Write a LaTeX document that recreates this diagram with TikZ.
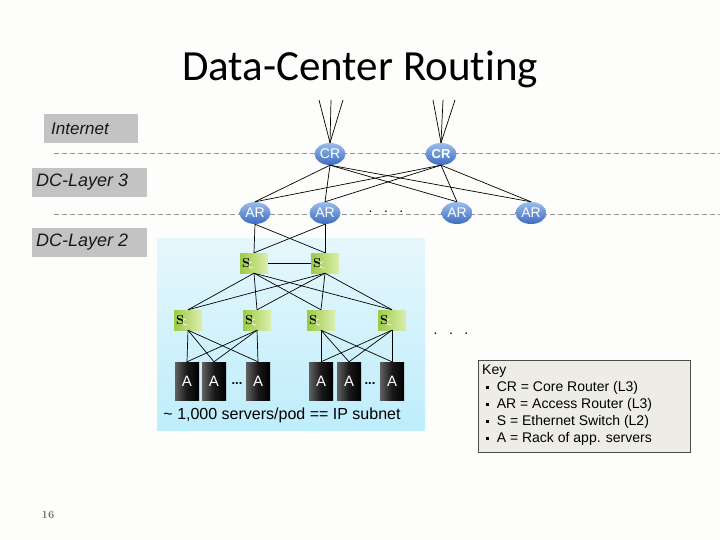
\documentclass[tikz,border=0pt]{standalone}
\usepackage{fontspec}
\setmainfont{Liberation Sans}
\newfontfamily\titlefont[Ligatures=NoCommon]{Carlito}
\newfontfamily\serifnum{Latin Modern Roman}
\usetikzlibrary{shapes.geometric}
\definecolor{bgc}{HTML}{FDFDFB}
\definecolor{podtop}{HTML}{E6F7FC}
\definecolor{podbot}{HTML}{BEEDFB}
\definecolor{rtop}{HTML}{9BBDEB}
\definecolor{rbot}{HTML}{3D6CC0}
\definecolor{sgl}{HTML}{9CCB45}
\definecolor{sgr}{HTML}{DCEEB0}
\definecolor{labelgray}{HTML}{C3C3C3}
\definecolor{keyfill}{HTML}{EEEDE5}
\tikzset{
  router/.style={ellipse, minimum width=31pt, minimum height=22pt, inner sep=0pt,
    top color=rtop, bottom color=rbot, draw=none, text=white,
    font=\fontsize{14}{14}\selectfont},
  switchbox/.style={rectangle, minimum width=28pt, minimum height=20pt, inner sep=0pt,
    left color=sgl, right color=sgr, draw=none},
  rack/.style={rectangle, minimum width=24pt, minimum height=38pt, inner sep=0pt,
    left color=black!62, right color=black, middle color=black!90, draw=none, text=white,
    font=\fontsize{15}{15}\selectfont},
  layerlabel/.style={rectangle, fill=labelgray, inner sep=0pt, anchor=north west},
  labeltext/.style={anchor=west, inner sep=0pt, text=black!90},
  layerline/.style={draw=black!42, dashed, dash pattern=on 5pt off 3pt, line width=0.6pt},
  link/.style={draw=black, line width=0.7pt},
  keyitem/.style={anchor=west, font=\fontsize{14}{14}\selectfont, inner sep=0pt},
}
\newcommand{\keybullet}{\raisebox{3pt}{\rule{2.6pt}{2.6pt}}\hspace{8pt}}
\newcommand{\sswitch}[2]{%
  \node[switchbox] (#1) at #2 {};
  \node[anchor=west, inner sep=0pt, font=\serifnum\bfseries\fontsize{13}{13}\selectfont] at ([xshift=2pt]#1.west) {S};
  \draw[white, line width=0.6pt] ([xshift=12pt,yshift=1pt]#1.west) arc[start angle=90, end angle=300, radius=3pt];
}
\begin{document}
\begin{tikzpicture}[x=1pt,y=-1pt]
\useasboundingbox (0,0) rectangle (720,540);
\fill[bgc] (0,0) rectangle (720,540);

% title
\node[font=\titlefont\fontsize{43}{43}\selectfont, anchor=base] (title) at (360,81) {Data-Center Routing};

% pod background
\shade[top color=podtop, bottom color=podbot] (157,238) rectangle (425,430);

% layer labels
\node[layerlabel, minimum width=94pt, minimum height=29pt] (lint) at (44,114) {};
\node[labeltext, font=\fontsize{17}{17}\selectfont\itshape] at (51,128.5) {Internet};
\node[layerlabel, minimum width=115pt, minimum height=29pt] (ldc3) at (32,168) {};
\node[labeltext, font=\fontsize{18}{18}\selectfont\itshape] at (36,182.5) {DC-Layer 3};
\node[layerlabel, minimum width=115pt, minimum height=29pt] (ldc2) at (32,228) {};
\node[labeltext, font=\fontsize{18}{18}\selectfont\itshape] at (36,242.5) {DC-Layer 2};

% dashed layer lines
\coordinate (d1a) at (54,153); \coordinate (d1b) at (720,153);
\coordinate (d2a) at (54,214); \coordinate (d2b) at (720,214);
\draw[layerline] (d1a) -- (d1b);
\draw[layerline] (d2a) -- (d2b);

% core routers
\node[router] (cr1) at (330,154) {CR};
\node[router, font=\fontsize{13}{13}\selectfont\bfseries] (cr2) at (441,154) {CR};

% access routers
\node[router] (ar1) at (255,213) {AR};
\node[router] (ar2) at (325,213) {AR};
\node[router] (ar3) at (457,213) {AR};
\node[router] (ar4) at (531,213) {AR};
\node[anchor=base, font=\fontsize{14}{14}\selectfont] (dotsar) at (386,213) {.\hspace{11.5pt}.\hspace{11.5pt}.};

% uplinks
\coordinate (u1) at (319,100); \coordinate (u2) at (331,100); \coordinate (u3) at (343,100);
\coordinate (u4) at (433,100); \coordinate (u5) at (443,100); \coordinate (u6) at (455,100);
\foreach \u in {u1,u2,u3} \draw[link] (cr1.north) -- (\u);
\foreach \u in {u4,u5,u6} \draw[link] (cr2.north) -- (\u);

% CR-AR mesh
\foreach \c in {cr1,cr2}
  \foreach \a in {ar1,ar2,ar3,ar4}
    \draw[link] (\c.south) -- (\a.north);

% aggregation switches
\sswitch{s1}{(254,263)}
\sswitch{s2}{(325,263)}
\foreach \a in {ar1,ar2}
  \foreach \s in {s1,s2}
    \draw[link] (\a.south) -- (\s.north);
\draw[link] (s1) -- (s2);

% top-of-rack switches
\sswitch{s3}{(188,320)}
\sswitch{s4}{(257,320)}
\sswitch{s5}{(321,320)}
\sswitch{s6}{(392,320)}
\foreach \a in {s1,s2}
  \foreach \s in {s3,s4,s5,s6}
    \draw[link] (\a.south) -- (\s.north);

\node[anchor=base, font=\fontsize{14}{14}\selectfont] (dotss) at (451,334) {.\hspace{11.5pt}.\hspace{11.5pt}.};

% racks
\node[rack] (a1) at (187,381) {A};
\node[rack] (a2) at (214,381) {A};
\node[rack] (a3) at (258,381) {A};
\node[rack] (a4) at (321,381) {A};
\node[rack] (a5) at (349,381) {A};
\node[rack] (a6) at (392,381) {A};
\node[font=\fontsize{13}{13}\selectfont\bfseries] (rd1) at (237,384) {...};
\node[font=\fontsize{13}{13}\selectfont\bfseries] (rd2) at (370,384) {...};

\foreach \s in {s3,s4}
  \foreach \a in {a1,a2,a3}
    \draw[link] (\s.south) -- (\a.north);
\foreach \s in {s5,s6}
  \foreach \a in {a4,a5,a6}
    \draw[link] (\s.south) -- (\a.north);

\node[font=\fontsize{16}{16}\selectfont] (pod) at (282,415) {\textasciitilde\ 1,000 servers/pod == IP subnet};

% key
\node[draw=black!70, fill=keyfill, line width=0.8pt, minimum width=212pt, minimum height=92pt, anchor=north west, inner sep=0pt] (key) at (478,360) {};
\node[keyitem] (k0) at (482,371) {Key};
\node[keyitem] (k1) at (486,388) {\keybullet CR = Core Router (L3)};
\node[keyitem] (k2) at (486,405) {\keybullet AR = Access Router (L3)};
\node[keyitem] (k3) at (486,422) {\keybullet S = Ethernet Switch (L2)};
\node[keyitem] (k4) at (486,439) {\keybullet A = Rack of app. servers};

% page number
\node[font=\serifnum\bfseries\fontsize{11}{11}\selectfont, text=black!55] (pg) at (48,515) {16};
\end{tikzpicture}
\end{document}
